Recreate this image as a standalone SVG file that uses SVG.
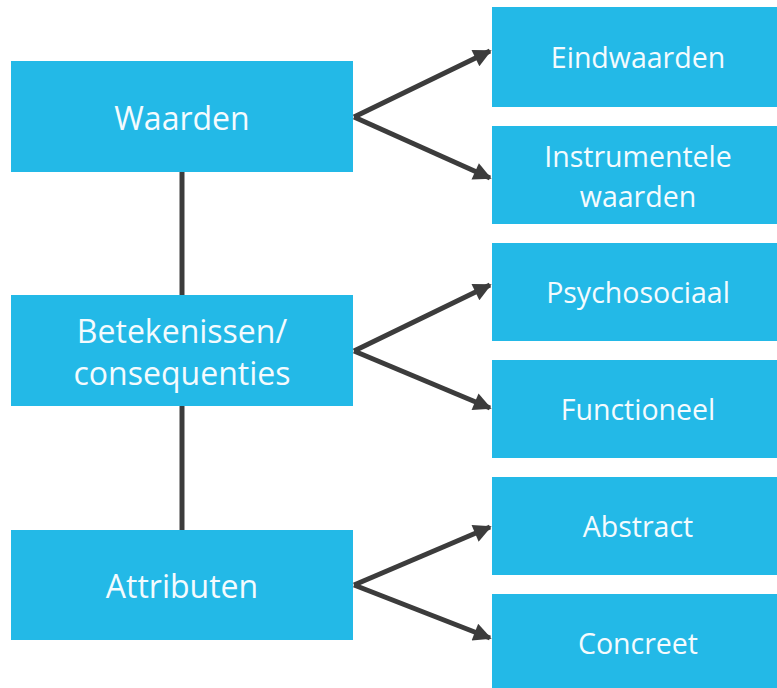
<svg xmlns="http://www.w3.org/2000/svg" width="777" height="688" viewBox="0 0 777 688">
<style>
.box{fill:#23B9E7}
.t{font-family:"Open Sans","Liberation Sans",sans-serif;fill:#F4FBFE;text-anchor:middle}
.l{font-size:32px}
.r{font-size:28.5px}
.c{stroke:#3C3C3C;stroke-width:5;fill:none}
</style>
<defs>
<marker id="ah" viewBox="0 0 10 10" refX="9" refY="5" markerWidth="4.4" markerHeight="3.6" orient="auto" markerUnits="strokeWidth">
<path d="M0,0 L10,5 L0,10 Z" fill="#3C3C3C"/>
</marker>
</defs>
<rect width="777" height="688" fill="#fff"/>
<g id="connectors">
<line class="c" x1="182" y1="172" x2="182" y2="295"/>
<line class="c" x1="182" y1="406" x2="182" y2="530"/>
<line class="c" x1="354" y1="117" x2="490" y2="51" marker-end="url(#ah)"/>
<line class="c" x1="354" y1="117" x2="490" y2="178" marker-end="url(#ah)"/>
<line class="c" x1="354" y1="351" x2="490" y2="285" marker-end="url(#ah)"/>
<line class="c" x1="354" y1="351" x2="490" y2="408" marker-end="url(#ah)"/>
<line class="c" x1="354" y1="585" x2="490" y2="527" marker-end="url(#ah)"/>
<line class="c" x1="354" y1="585" x2="490" y2="638" marker-end="url(#ah)"/>
</g>
<g id="waarden"><rect class="box" x="11" y="61" width="342" height="111"/><text class="t l" x="182" y="130">Waarden</text></g>
<g id="betekenissen"><rect class="box" x="11" y="295" width="342" height="111"/><text class="t l" x="182" y="343">Betekenissen/</text><text class="t l" x="182" y="385">consequenties</text></g>
<g id="attributen"><rect class="box" x="11" y="530" width="342" height="110"/><text class="t l" x="182" y="598">Attributen</text></g>
<g id="eindwaarden"><rect class="box" x="492" y="7" width="285" height="100"/><text class="t r" x="638" y="68">Eindwaarden</text></g>
<g id="instrumentele"><rect class="box" x="492" y="126" width="285" height="98"/><text class="t r" x="638" y="167">Instrumentele</text><text class="t r" x="638" y="207">waarden</text></g>
<g id="psychosociaal"><rect class="box" x="492" y="243" width="285" height="98"/><text class="t r" x="638" y="303">Psychosociaal</text></g>
<g id="functioneel"><rect class="box" x="492" y="360" width="285" height="98"/><text class="t r" x="638" y="420">Functioneel</text></g>
<g id="abstract"><rect class="box" x="492" y="477" width="285" height="98"/><text class="t r" x="638" y="537">Abstract</text></g>
<g id="concreet"><rect class="box" x="492" y="594" width="285" height="94"/><text class="t r" x="638" y="654">Concreet</text></g>
</svg>
